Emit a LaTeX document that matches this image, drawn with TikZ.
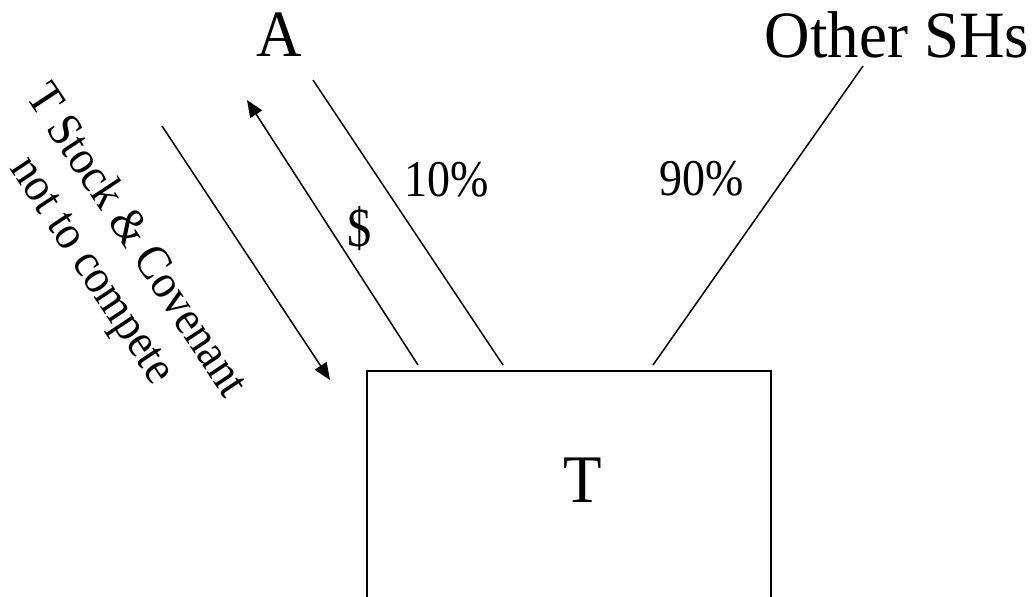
\documentclass[tikz,border=0pt]{standalone}
\usepackage{fontspec}
\setmainfont{Liberation Serif}
\usetikzlibrary{arrows.meta}
\newcommand{\vstretch}[1]{\scalebox{1}[1.12]{#1}}
\begin{document}
\begin{tikzpicture}[x=1pt,y=-1pt,
  big/.style={font=\fontsize{63}{70}\selectfont, inner sep=0pt},
  small/.style={font=\fontsize{46}{52}\selectfont, inner sep=0pt},
  rot/.style={font=\fontsize{44}{48}\selectfont, inner sep=0pt, rotate=-56.5},
  conn/.style={line width=1.5pt},
  flow/.style={line width=1.5pt, -{Triangle[length=17pt,width=14pt]}},
  tbox/.style={draw, line width=2pt, minimum width=404pt, minimum height=260pt, inner sep=0pt}]
\useasboundingbox (0,0) rectangle (1034,597);
\clip (0,0) rectangle (1034,597);
\fill[white] (0,0) rectangle (1034,597);
% nodes
\node[big] (A) at (279,35) {\scalebox{1}[1.05]{A}};
\node[big] (O) at (897,35) {\scalebox{1}[1.05]{Other SHs}};
\node[tbox] (T) at (569,501) {};
\node[big] (Tl) at (583,480) {\scalebox{1}[1.08]{T}};
\node[small] (p10) at (447,180) {\vstretch{10\%}};
\node[small] (p90) at (702,179) {\vstretch{90\%}};
\node[small] (dol) at (360,229) {\scalebox{1.05}[1.2]{\$}};
\node[rot] (stock) at (112,257) {\scalebox{1}[1.1]{\begin{tabular}{@{}c@{}}T Stock \& Covenant\\not to compete\end{tabular}}};
% connector ends
\coordinate (a1) at (313,80);
\coordinate (a2) at (503,365);
\coordinate (o1) at (863,66);
\coordinate (o2) at (653,365);
\coordinate (s1) at (162,126);
\coordinate (s2) at (330,380);
\coordinate (d1) at (418,365);
\coordinate (d2) at (247,100);
% connectors
\draw[conn] (a1) -- (a2);
\draw[conn] (o1) -- (o2);
\draw[flow] (s1) -- (s2);
\draw[flow] (d1) -- (d2);
\end{tikzpicture}
\end{document}
